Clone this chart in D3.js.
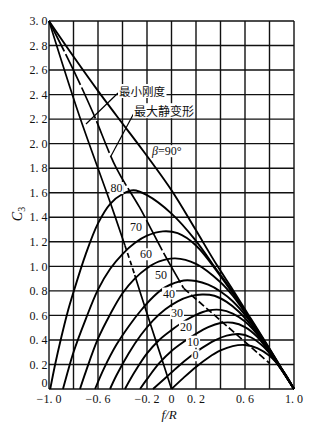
<!DOCTYPE html>
<html><head><meta charset="utf-8">
<script src="https://cdn.jsdelivr.net/npm/d3@7"></script>
<style>
html,body{margin:0;padding:0;background:#fff;}
svg{display:block;}
</style></head>
<body>
<div id="chart"></div>
<script>
// ---- data ----
const xTicks = [-1, -0.6, -0.2, 0, 0.2, 0.6, 1.0];
const xTickLabels = ["\u22121. 0", "\u22120. 6", "\u22120. 2", "0", "0. 2", "0. 6", "1. 0"];
const yTicks = [0,0.2,0.4,0.6,0.8,1.0,1.2,1.4,1.6,1.8,2.0,2.2,2.4,2.6,2.8,3.0];
const yTickLabels = ["0","0. 2","0. 4","0. 6","0. 8","1. 0","1. 2","1. 4","1. 6","1. 8","2. 0","2. 2","2. 4","2. 6","2. 8","3. 0"];

const beta90 = [[-1,3],[-0.8,2.71],[-0.6,2.43],[-0.45,2.23],[-0.23,1.94],[0,1.62],[0.19,1.31],[0.37,1.01],[0.5,0.81],[0.65,0.57],[0.8,0.33],[0.9,0.166],[1,0]];
const beta80 = [[-0.99,0],[-0.95,0.2],[-0.9,0.42],[-0.85,0.62],[-0.8,0.79],[-0.7,1.10],[-0.6,1.35],[-0.5,1.51],[-0.4,1.59],[-0.31,1.62],[-0.2,1.58],[0,1.43],[0.19,1.22],[0.37,0.97],[0.5,0.79],[0.65,0.56],[0.8,0.325],[0.9,0.163],[1,0]];
const beta70 = [[-0.886,0],[-0.85,0.13],[-0.8,0.3],[-0.7,0.57],[-0.6,0.81],[-0.5,0.98],[-0.4,1.10],[-0.3,1.19],[-0.2,1.25],[-0.07,1.285],[0.05,1.27],[0.2,1.17],[0.4,0.92],[0.5,0.78],[0.65,0.555],[0.8,0.32],[0.9,0.162],[1,0]];
const beta60 = [[-0.747,0],[-0.7,0.14],[-0.6,0.41],[-0.5,0.61],[-0.4,0.78],[-0.3,0.9],[-0.2,0.985],[-0.1,1.04],[0.03,1.065],[0.2,1.02],[0.4,0.87],[0.5,0.76],[0.65,0.55],[0.8,0.318],[0.9,0.161],[1,0]];
const beta50 = [[-0.624,0],[-0.55,0.17],[-0.45,0.36],[-0.35,0.51],[-0.25,0.64],[-0.15,0.75],[-0.05,0.83],[0.1,0.885],[0.2,0.88],[0.3,0.85],[0.4,0.795],[0.5,0.715],[0.65,0.54],[0.8,0.312],[0.9,0.159],[1,0]];
const beta40 = [[-0.502,0],[-0.45,0.11],[-0.35,0.29],[-0.25,0.44],[-0.15,0.56],[-0.05,0.65],[0.05,0.715],[0.15,0.755],[0.25,0.77],[0.35,0.76],[0.45,0.71],[0.55,0.63],[0.65,0.52],[0.8,0.306],[0.9,0.157],[1,0]];
const beta30 = [[-0.38,0],[-0.3,0.14],[-0.2,0.29],[-0.1,0.40],[0,0.48],[0.1,0.55],[0.2,0.605],[0.3,0.64],[0.4,0.645],[0.5,0.615],[0.6,0.55],[0.7,0.445],[0.8,0.30],[0.9,0.155],[1,0]];
const beta20 = [[-0.257,0],[-0.2,0.08],[-0.1,0.21],[0,0.31],[0.1,0.385],[0.2,0.45],[0.3,0.505],[0.4,0.538],[0.5,0.54],[0.6,0.505],[0.7,0.425],[0.8,0.295],[0.9,0.153],[1,0]];
const beta10 = [[-0.151,0],[-0.05,0.09],[0.05,0.18],[0.15,0.262],[0.25,0.335],[0.35,0.395],[0.45,0.435],[0.55,0.448],[0.65,0.42],[0.75,0.345],[0.85,0.228],[0.93,0.12],[1,0]];
const beta0 = [[0,0],[0.1,0.093],[0.2,0.18],[0.3,0.255],[0.4,0.314],[0.5,0.35],[0.6,0.359],[0.7,0.334],[0.8,0.27],[0.9,0.16],[1,0]];

const curveLabels = ["80","70","60","50","40","30","20","10","0"];
const curveLabelPos = [[-0.449,1.64],[-0.29,1.32],[-0.208,1.10],[-0.086,0.93],[-0.02,0.78],[0.045,0.62],[0.118,0.51],[0.176,0.387],[0.196,0.277]];

// loci
const minStiffA = [[-1,3],[-0.76,2.25],[-0.5,1.52],[-0.38,1.17]];
const minStiffB = [[-0.38,1.17],[-0.33,1.02],[-0.3,0.93]];
const minStiffC = [[-0.3,0.93],[-0.25,0.77],[-0.12,0.37],[0,0]];
const maxDefA = [[-1,3],[-0.8,2.6],[-0.64,2.25],[-0.45,1.8],[-0.26,1.48],[-0.07,1.12],[0.1,0.82]];
const maxDefB = [[0.1,0.82],[0.45,0.515],[0.8,0.21]];

// ---- drawing ----
const W = 314, H = 433;
const svg = d3.select("#chart").append("svg").attr("width", W).attr("height", H);
const x = d3.scaleLinear().domain([-1, 1]).range([49, 294]);
const y = d3.scaleLinear().domain([0, 3]).range([389, 21]);
const serif = "'Liberation Serif','Times New Roman',serif";

// grid
const gx = d3.range(-1, 1.0001, 0.2);
svg.append("g").selectAll("line").data(gx).join("line")
  .attr("x1", d => x(d)).attr("x2", d => x(d)).attr("y1", y(0)).attr("y2", y(3))
  .attr("stroke", "#111").attr("stroke-width", 1.4);
svg.append("g").selectAll("line").data(yTicks).join("line")
  .attr("x1", x(-1)).attr("x2", x(1)).attr("y1", d => y(d)).attr("y2", d => y(d))
  .attr("stroke", "#111").attr("stroke-width", 1.4);

// tick labels
svg.append("g").selectAll("text").data(yTicks).join("text")
  .attr("x", 47.5).attr("y", (d) => d === 0 ? y(d) - 6 : y(d))
  .attr("dy", "0.35em").attr("text-anchor", "end")
  .attr("font-family", serif).attr("font-size", 12).attr("fill", "#111")
  .text((d, i) => yTickLabels[i]);
svg.append("g").selectAll("text").data(xTicks).join("text")
  .attr("x", d => x(d)).attr("y", 403).attr("text-anchor", "middle")
  .attr("font-family", serif).attr("font-size", 12).attr("fill", "#111")
  .text((d, i) => xTickLabels[i]);

// axis titles
svg.append("text").attr("x", 169).attr("y", 419).attr("text-anchor", "middle")
  .attr("font-family", serif).attr("font-size", 13).attr("font-style", "italic").attr("fill", "#111")
  .text("f/R");
const ct = svg.append("text").attr("transform", "translate(22,214) rotate(-90)")
  .attr("text-anchor", "middle").attr("font-family", serif).attr("font-size", 14).attr("fill", "#111");
ct.append("tspan").attr("font-style", "italic").text("C");
ct.append("tspan").attr("font-size", 10).attr("dy", 3).text("3");

// curves
const line = d3.line().x(d => x(d[0])).y(d => y(d[1])).curve(d3.curveCatmullRom.alpha(0.5));
const family = [beta90, beta80, beta70, beta60, beta50, beta40, beta30, beta20, beta10, beta0];
svg.append("g").selectAll("path").data(family).join("path")
  .attr("d", line).attr("fill", "none").attr("stroke", "#000").attr("stroke-width", 1.9);

// loci
const loci = svg.append("g").attr("fill", "none").attr("stroke", "#000").attr("stroke-width", 1.7);
loci.append("path").attr("d", line(minStiffA));
loci.append("path").attr("d", line(minStiffB)).attr("stroke-dasharray", "5,3");
loci.append("path").attr("d", line(minStiffC));
loci.append("path").attr("d", line(maxDefA)).attr("stroke-dasharray", "34,3");
loci.append("path").attr("d", line(maxDefB)).attr("stroke-dasharray", "7,3");

// labels with white background
function bgLabel(tx, ty, str, opts) {
  const g = svg.append("g");
  const t = g.append("text").attr("x", tx).attr("y", ty).attr("dy", "0.35em")
    .attr("text-anchor", opts.anchor || "middle")
    .attr("font-family", opts.font || serif).attr("font-size", opts.size || 12).attr("fill", "#111");
  if (opts.build) opts.build(t); else t.text(str);
  const b = t.node().getBBox();
  g.insert("rect", "text").attr("x", b.x - 1).attr("y", b.y + 1).attr("width", b.width + 2).attr("height", b.height - 2).attr("fill", "#fff");
  return g;
}
curveLabels.forEach((s, i) => {
  bgLabel(x(curveLabelPos[i][0]), y(curveLabelPos[i][1]), s, {size: 12});
});

// leaders
svg.append("line").attr("x1", 118).attr("y1", 93).attr("x2", 86).attr("y2", 124).attr("stroke", "#000").attr("stroke-width", 1.2);
svg.append("line").attr("x1", 134).attr("y1", 113).attr("x2", 111).attr("y2", 156).attr("stroke", "#000").attr("stroke-width", 1.2);

const cjk = "'Noto Sans CJK SC','Noto Sans CJK JP',sans-serif";
bgLabel(119, 92, "最小刚度", {anchor: "start", font: cjk, size: 11.5});
bgLabel(134, 112, "最大静变形", {anchor: "start", font: cjk, size: 12});
bgLabel(152, 151, "", {anchor: "start", size: 12, build: t => {
  t.append("tspan").attr("font-style", "italic").text("β");
  t.append("tspan").text("=90°");
}});
</script>
</body></html>
